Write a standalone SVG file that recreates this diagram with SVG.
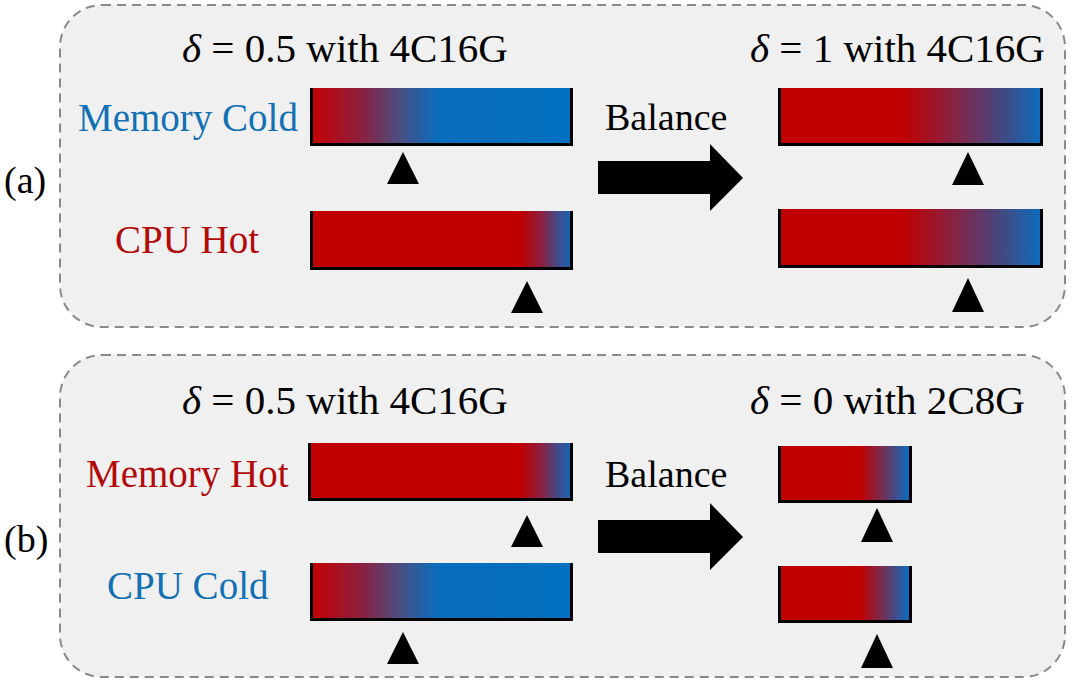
<svg xmlns="http://www.w3.org/2000/svg" width="1072" height="684" viewBox="0 0 1072 684">
<defs>
<linearGradient id="gCold" x1="0" y1="0" x2="1" y2="0">
<stop offset="0" stop-color="#c00000"/>
<stop offset="0.05" stop-color="#b80810"/>
<stop offset="0.20" stop-color="#8a2040"/>
<stop offset="0.34" stop-color="#4a4e80"/>
<stop offset="0.48" stop-color="#0b6cbc"/>
<stop offset="1" stop-color="#0070c0"/>
</linearGradient>
<linearGradient id="gHot" x1="0" y1="0" x2="1" y2="0">
<stop offset="0" stop-color="#c00000"/>
<stop offset="0.80" stop-color="#c00000"/>
<stop offset="0.88" stop-color="#8a2040"/>
<stop offset="0.95" stop-color="#3a5090"/>
<stop offset="1" stop-color="#1068b8"/>
</linearGradient>
<linearGradient id="gBal" x1="0" y1="0" x2="1" y2="0">
<stop offset="0" stop-color="#c00000"/>
<stop offset="0.47" stop-color="#c00000"/>
<stop offset="0.70" stop-color="#7a2a50"/>
<stop offset="0.85" stop-color="#404a82"/>
<stop offset="1" stop-color="#0a6ec0"/>
</linearGradient>
<linearGradient id="gSmall" x1="0" y1="0" x2="1" y2="0">
<stop offset="0" stop-color="#c00000"/>
<stop offset="0.61" stop-color="#c00000"/>
<stop offset="0.76" stop-color="#802848"/>
<stop offset="0.95" stop-color="#1a64b0"/>
<stop offset="1" stop-color="#0a6cc0"/>
</linearGradient>
<style>
.panel{fill:#f0f0f0;stroke:#8a8a8a;stroke-width:2;stroke-dasharray:9 6}
.t{font-family:'Liberation Serif',serif;font-size:38px;fill:#000}
.l{font-family:'Liberation Serif',serif;font-size:39px}
.h{font-family:'Liberation Serif',serif;font-size:41px;fill:#000}
.blue{fill:#1270b4}
.red{fill:#b20a0a}
.edge{fill:none;stroke:#000;stroke-width:3}
.tri{fill:#000}
</style>
</defs>

<g id="panel-a">
<rect class="panel" x="60" y="5" width="1005" height="322" rx="42" ry="42"/>
<text class="t" x="4" y="193">(a)</text>
</g>
<g id="panel-b">
<rect class="panel" x="60" y="355" width="1005" height="322" rx="42" ry="42"/>
<text class="t" x="4" y="552">(b)</text>
</g>

<g id="a-left">
<text class="h" x="182" y="62" textLength="326" lengthAdjust="spacingAndGlyphs"><tspan font-style="italic">δ</tspan> = 0.5 with 4C16G</text>
<g id="a-mem-cold">
<text class="l blue" x="78" y="131">Memory Cold</text>
<rect x="310" y="88" width="263" height="58" fill="url(#gCold)"/>
<path class="edge" d="M311.5,88 V144.5 H571.5 V88"/>
<polygon class="tri" points="403,152 387,184 419,184"/>
</g>
<g id="a-cpu-hot">
<text class="l red" x="115" y="253">CPU Hot</text>
<rect x="310" y="211" width="263" height="59" fill="url(#gHot)"/>
<path class="edge" d="M311.5,211 V268.5 H571.5 V211"/>
<polygon class="tri" points="527,281 511,313 543,313"/>
</g>
</g>

<g id="a-right">
<text class="h" x="750" y="62" textLength="295" lengthAdjust="spacingAndGlyphs"><tspan font-style="italic">δ</tspan> = 1 with 4C16G</text>
<g id="a-mem-bal">
<rect x="778" y="88" width="265" height="58" fill="url(#gBal)"/>
<path class="edge" d="M779.5,88 V144.5 H1041.5 V88"/>
<polygon class="tri" points="968,152 952,185 984,185"/>
</g>
<g id="a-cpu-bal">
<rect x="778" y="209" width="265" height="59" fill="url(#gBal)"/>
<path class="edge" d="M779.5,209 V266.5 H1041.5 V209"/>
<polygon class="tri" points="968,278 952,312 984,312"/>
</g>
</g>

<g id="b-left">
<text class="h" x="182" y="414" textLength="326" lengthAdjust="spacingAndGlyphs"><tspan font-style="italic">δ</tspan> = 0.5 with 4C16G</text>
<g id="b-mem-hot">
<text class="l red" x="86" y="487">Memory Hot</text>
<rect x="308" y="443" width="265" height="58" fill="url(#gHot)"/>
<path class="edge" d="M309.5,443 V499.5 H571.5 V443"/>
<polygon class="tri" points="527,515 511,547 543,547"/>
</g>
<g id="b-cpu-cold">
<text class="l blue" x="107" y="599">CPU Cold</text>
<rect x="310" y="563" width="263" height="58" fill="url(#gCold)"/>
<path class="edge" d="M311.5,563 V619.5 H571.5 V563"/>
<polygon class="tri" points="403,632 387,664 419,664"/>
</g>
</g>

<g id="b-right">
<text class="h" x="750" y="414" textLength="275" lengthAdjust="spacingAndGlyphs"><tspan font-style="italic">δ</tspan> = 0 with 2C8G</text>
<g id="b-mem-small">
<rect x="778" y="446" width="134" height="57" fill="url(#gSmall)"/>
<path class="edge" d="M779.5,446 V501.5 H910.5 V446"/>
<polygon class="tri" points="877,508 861,542 893,542"/>
</g>
<g id="b-cpu-small">
<rect x="778" y="566" width="134" height="57" fill="url(#gSmall)"/>
<path class="edge" d="M779.5,566 V621.5 H910.5 V566"/>
<polygon class="tri" points="877,634 861,668 893,668"/>
</g>
</g>

<g id="connectors">
<g id="balance-a">
<text class="t" x="605" y="130">Balance</text>
<polygon points="598,161 710,161 710,144 743,178 710,211 710,194 598,194" fill="#000"/>
</g>
<g id="balance-b">
<text class="t" x="605" y="487">Balance</text>
<polygon points="598,520 710,520 710,503 743,537 710,570 710,553 598,553" fill="#000"/>
</g>
</g>
</svg>
